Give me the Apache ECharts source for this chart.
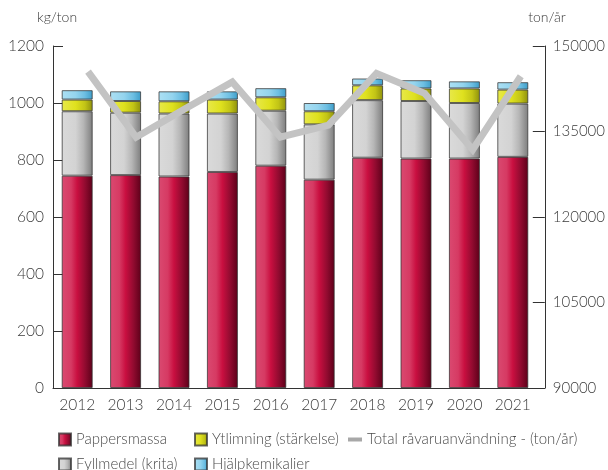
<!DOCTYPE html>
<html>
<head>
<meta charset="utf-8">
<script src="https://cdn.jsdelivr.net/npm/echarts@6/dist/echarts.min.js"></script>
<style>
  html, body { margin: 0; padding: 0; background: #fff; }
  #chart { width: 608px; height: 470px; }
</style>
</head>
<body>
<div id="chart"></div>
<script>
// Råvaruanvändning per ton papper (kg/ton) och total användning (ton/år)
const years = ['2012', '2013', '2014', '2015', '2016', '2017', '2018', '2019', '2020', '2021'];
const pappersmassa = [745, 747, 742, 758, 780, 731, 808, 805, 805, 811];
const fyllmedel = [226, 219, 221, 205, 193, 194, 202, 202, 195, 187];
const ytlimning = [41, 41, 43, 49, 47, 46, 52, 44, 51, 49];
const hjalpkemikalier = [33, 34, 35, 29, 32, 29, 24, 29, 25, 26];
const totalTonAr = [145500, 134000, 138900, 143700, 134000, 136100, 145200, 141700, 131800, 144700];

const FONT = 'Lato, "Open Sans", sans-serif';
const TEXT = '#3a3a3a';
const W = 300;

function hGrad(stops) {
  return new echarts.graphic.LinearGradient(0, 0, 1, 0,
    stops.map(([o, c]) => ({ offset: o, color: c })));
}

const redFill = hGrad([[0, '#da4a71'], [0.3, '#d63a63'], [0.5, '#c90f40'], [0.75, '#920b30'], [1, '#5c0019']]);
const grayFill = hGrad([[0, '#dadada'], [0.45, '#d3d3d3'], [0.7, '#b6b6b6'], [1, '#7c7c7c']]);
const yellowFill = hGrad([[0, '#e8e94a'], [0.45, '#dfe11e'], [0.75, '#c2c416'], [1, '#8e900c']]);
const blueFill = hGrad([[0, '#ace0f4'], [0.45, '#94d4ee'], [0.75, '#6cbee2'], [1, '#3c9cc8']]);

const barBorder = { borderColor: 'rgba(50,50,50,0.75)', borderWidth: 1 };

function barSeries(name, data, fill) {
  return {
    name: name,
    type: 'bar',
    stack: 'kg',
    xAxisIndex: 0,
    yAxisIndex: 0,
    barWidth: 31,
    data: data,
    itemStyle: Object.assign({ color: fill }, barBorder),
    emphasis: { disabled: true }
  };
}

const legendText = { fontFamily: FONT, fontSize: 15, color: '#4a4a4a', fontWeight: W };
function legendAt(name, left, top, w, h) {
  return {
    data: [{ name: name, icon: 'rect' }],
    left: left, top: top,
    itemWidth: w, itemHeight: h, itemGap: 0,
    textStyle: legendText,
    selectedMode: false
  };
}

const plain = v => String(v);

const chart = echarts.init(document.getElementById('chart'), null, { renderer: 'canvas' });
chart.setOption({
  animation: false,
  textStyle: { fontFamily: FONT },
  grid: [
    { left: 53, right: 71, top: 46, bottom: 82 },
    { left: 64, right: 60, top: 46, bottom: 82 }
  ],
  legend: [
    legendAt('Pappersmassa', 53, 427, 12, 12),
    legendAt('Ytlimning (stärkelse)', 189, 427, 12, 12),
    legendAt('Total råvaruanvändning - (ton/år)', 343, 427, 14, 4),
    legendAt('Fyllmedel (krita)', 53, 452, 12, 12),
    legendAt('Hjälpkemikalier', 189, 452, 12, 12)
  ],
  xAxis: [
    {
      type: 'category', gridIndex: 0, data: years,
      axisLine: { lineStyle: { color: '#333', width: 1 } },
      axisTick: { inside: true, length: 8, lineStyle: { color: '#333' } },
      axisLabel: { interval: 0, fontSize: 15.5, color: TEXT, margin: 9, fontFamily: FONT, fontWeight: W },
      splitLine: { show: false }
    },
    {
      type: 'category', gridIndex: 1, data: years,
      axisLine: { lineStyle: { color: '#333', width: 1 } },
      axisTick: { show: false },
      axisLabel: { show: false },
      splitLine: { show: false }
    }
  ],
  yAxis: [
    {
      type: 'value', gridIndex: 0, min: 0, max: 1200, interval: 200,
      name: 'kg/ton', nameLocation: 'end', nameGap: 22,
      nameTextStyle: { fontSize: 14, color: TEXT, fontFamily: FONT, fontWeight: W, align: 'left', padding: [0, 0, 0, -16] },
      axisLine: { show: true, lineStyle: { color: '#333', width: 1 } },
      axisTick: { show: true, inside: true, length: 10, lineStyle: { color: '#333' } },
      axisLabel: { formatter: plain, fontSize: 15.5, color: TEXT, margin: 9, fontFamily: FONT, fontWeight: W },
      splitLine: { show: false }
    },
    {
      type: 'value', gridIndex: 1, position: 'right', min: 90000, max: 150000, interval: 15000,
      name: 'ton/år', nameLocation: 'end', nameGap: 22,
      nameTextStyle: { fontSize: 14, color: TEXT, fontFamily: FONT, fontWeight: W, align: 'right', padding: [0, -21, 0, 0] },
      axisLine: { show: true, lineStyle: { color: '#333', width: 1 } },
      axisTick: { show: true, inside: true, length: 12, lineStyle: { color: '#333' } },
      axisLabel: { formatter: plain, fontSize: 15, color: TEXT, margin: 8, fontFamily: FONT, fontWeight: W },
      splitLine: { show: false }
    }
  ],
  series: [
    barSeries('Pappersmassa', pappersmassa, redFill),
    barSeries('Fyllmedel (krita)', fyllmedel, grayFill),
    barSeries('Ytlimning (stärkelse)', ytlimning, yellowFill),
    barSeries('Hjälpkemikalier', hjalpkemikalier, blueFill),
    {
      name: 'Total råvaruanvändning - (ton/år)',
      type: 'line',
      xAxisIndex: 1,
      yAxisIndex: 1,
      data: totalTonAr,
      symbol: 'none',
      z: 5,
      itemStyle: { color: '#a8a8a8' },
      lineStyle: { width: 7, color: '#c3c3c3', join: 'miter', cap: 'butt' },
      emphasis: { disabled: true }
    }
  ]
});
</script>
</body>
</html>
